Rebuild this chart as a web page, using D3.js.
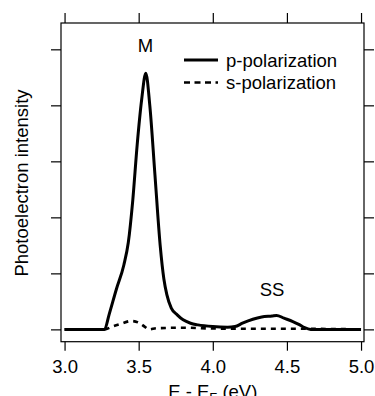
<!DOCTYPE html>
<html>
<head>
<meta charset="utf-8">
<script src="https://cdn.jsdelivr.net/npm/d3@7"></script>
<style>
  body { margin: 0; background: #fff; }
  svg { display: block; font-family: "Liberation Sans", Arial, Helvetica, sans-serif; }
  .axis path, .axis line { stroke: #000; stroke-width: 1.2; }
</style>
</head>
<body>
<div class="chart"></div>
<script>
// energy (eV) and intensity for each polarization
var pEnergy = [3.00, 3.27, 3.30, 3.35, 3.40, 3.43, 3.46, 3.49, 3.52, 3.548, 3.575, 3.61, 3.645, 3.67, 3.69, 3.72, 3.76, 3.80, 3.85, 3.90, 4.00, 4.10, 4.15, 4.20, 4.27, 4.33, 4.40, 4.43, 4.48, 4.54, 4.58, 4.62, 4.66, 5.00];
var pValues = [0, 0, 0.26, 0.72, 1.15, 1.55, 2.3, 3.3, 4.1, 4.575, 4.0, 2.75, 1.5, 0.9, 0.62, 0.38, 0.26, 0.17, 0.11, 0.08, 0.05, 0.04, 0.05, 0.11, 0.18, 0.22, 0.24, 0.25, 0.2, 0.14, 0.09, 0.03, 0, 0];

var sEnergy = [3.00, 3.27, 3.32, 3.38, 3.45, 3.50, 3.54, 3.57, 3.62, 3.80, 4.00, 4.30, 4.60, 5.00];
var sValues = [0, 0, 0.05, 0.1, 0.15, 0.12, 0.05, 0.0, 0.02, 0.03, 0.015, 0.01, 0.01, 0];

var xTicks = [3.0, 3.5, 4.0, 4.5, 5.0];
var yTicks = [0, 1, 2, 3, 4, 5];

var legendLabels = ['p-polarization', 's-polarization'];
var peakLabels = [{ name: 'M', e: 3.545, v: 4.95 }, { name: 'SS', e: 4.40, v: 0.6 }];

var width = 375;
var height = 396;
var boxL = 61, boxR = 364, boxT = 23, boxB = 341.7;

var svg = d3.select('.chart')
	.append('svg')
	.attr('width', width)
	.attr('height', height);

var x = d3.scaleLinear().domain([2.976, 5.02]).range([boxL, boxR]);
var y = d3.scaleLinear().domain([-0.22, 5.47]).range([boxB, boxT]);

// frame
svg.append('rect')
	.attr('x', boxL)
	.attr('y', boxT)
	.attr('width', boxR - boxL)
	.attr('height', boxB - boxT)
	.attr('fill', 'none')
	.attr('stroke', '#000')
	.attr('stroke-width', 1.2);

var xb = svg.append('g')
	.attr('class', 'axis')
	.attr('transform', 'translate(0,' + boxB + ')')
	.call(d3.axisBottom(x).tickValues(xTicks).tickSize(9).tickSizeOuter(0).tickFormat(d3.format('.1f')));
xb.select('.domain').remove();
xb.selectAll('text')
	.attr('y', 31.5)
	.attr('dy', 0)
	.attr('font-size', '18.5px')
	.attr('font-family', '"Liberation Sans", Arial, sans-serif')
	.attr('fill', '#000');

var xt = svg.append('g')
	.attr('class', 'axis')
	.attr('transform', 'translate(0,' + boxT + ')')
	.call(d3.axisTop(x).tickValues(xTicks).tickSize(10).tickFormat(''));
xt.select('.domain').remove();

var yl = svg.append('g')
	.attr('class', 'axis')
	.attr('transform', 'translate(' + boxL + ',0)')
	.call(d3.axisLeft(y).tickValues(yTicks).tickSize(10).tickFormat(''));
yl.select('.domain').remove();

var yr = svg.append('g')
	.attr('class', 'axis')
	.attr('transform', 'translate(' + boxR + ',0)')
	.call(d3.axisRight(y).tickValues(yTicks).tickSize(10).tickFormat(''));
yr.select('.domain').remove();

// curves
var line = d3.line()
	.x(function(d){ return x(d[0]); })
	.y(function(d){ return y(d[1]); })
	.curve(d3.curveMonotoneX);

var sData = d3.zip(sEnergy, sValues);
var pData = d3.zip(pEnergy, pValues);

svg.append('path')
	.datum(sData)
	.attr('d', line)
	.attr('fill', 'none')
	.attr('stroke', '#000')
	.attr('stroke-width', 2.6)
	.attr('stroke-dasharray', '5,5');

svg.append('path')
	.datum(pData)
	.attr('d', line)
	.attr('fill', 'none')
	.attr('stroke', '#000')
	.attr('stroke-width', 3)
	.attr('stroke-linejoin', 'round');

// peak labels
svg.selectAll('.peak')
	.data(peakLabels)
	.enter().append('text')
	.attr('class', 'peak')
	.attr('x', function(d){ return x(d.e); })
	.attr('y', function(d){ return y(d.v); })
	.attr('text-anchor', 'middle')
	.attr('font-size', '18.5px')
	.text(function(d){ return d.name; });

// legend
var legend = svg.selectAll('.legend')
	.data(legendLabels)
	.enter().append('g')
	.attr('class', 'legend')
	.attr('transform', function(d, i){ return 'translate(184,' + (60 + i * 22.5) + ')'; });

legend.append('line')
	.attr('x1', 0)
	.attr('x2', 34)
	.attr('stroke', '#000')
	.attr('stroke-width', function(d, i){ return i === 0 ? 3 : 2.6; })
	.attr('stroke-dasharray', function(d, i){ return i === 0 ? null : '6,4.5'; });

legend.append('text')
	.attr('x', 42)
	.attr('y', 6.5)
	.attr('font-size', '18.5px')
	.text(function(d){ return d; });

// axis titles
svg.append('text')
	.attr('transform', 'translate(28,183) rotate(-90)')
	.attr('text-anchor', 'middle')
	.attr('font-size', '18.5px')
	.text('Photoelectron intensity');

var xl = svg.append('text')
	.attr('x', x(4.0))
	.attr('y', 398)
	.attr('text-anchor', 'middle')
	.attr('font-size', '18.5px');
xl.append('tspan').text('E - E');
xl.append('tspan').attr('font-size', '13px').attr('dy', 4).text('F');
xl.append('tspan').attr('dy', -4).text(' (eV)');
</script>
</body>
</html>
